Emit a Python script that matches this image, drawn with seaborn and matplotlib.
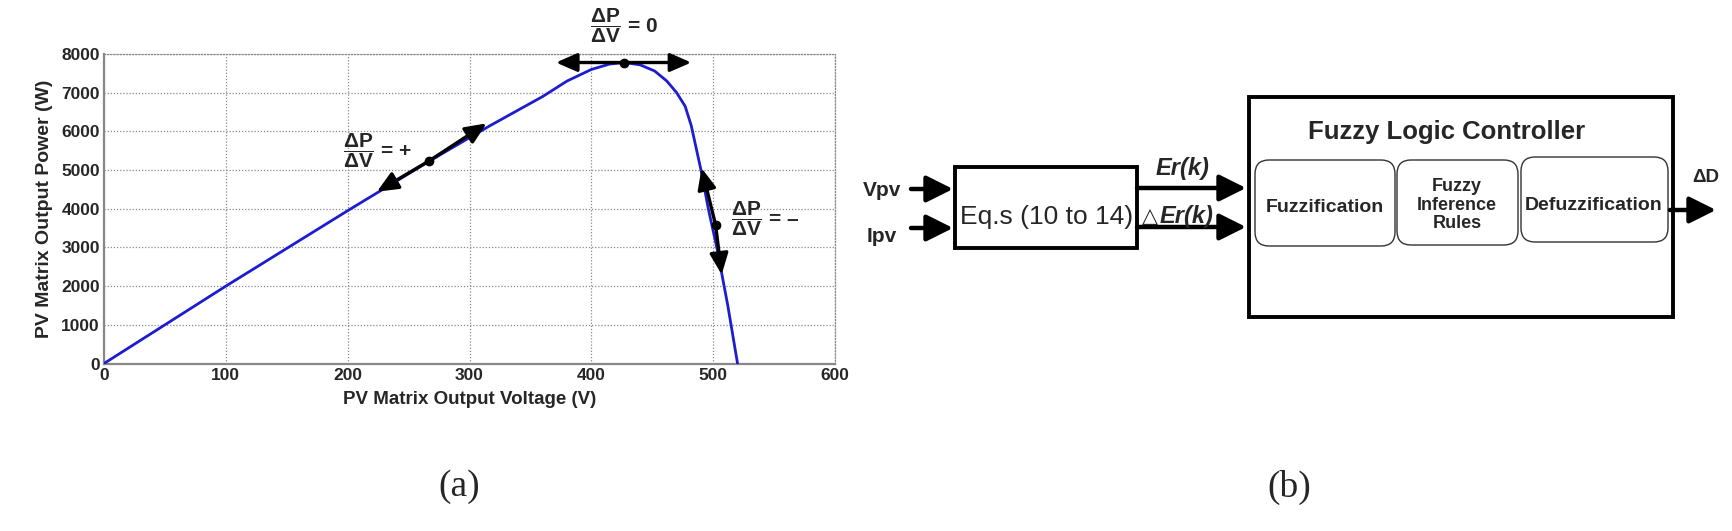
import seaborn as sns
import matplotlib.pyplot as plt
from matplotlib.patches import FancyBboxPatch, Rectangle

# PV curve
voltage = [0, 100, 200, 267, 317, 360, 380, 400, 415, 427, 440, 452, 462, 470, 477, 482,
           490, 496, 503, 512, 520]
power = [0, 2000, 3950, 5230, 6150, 6900, 7300, 7600, 7740, 7780, 7720, 7560, 7300, 7000,
         6650, 6150, 5000, 4000, 3000, 1500, 0]

x_ticks = [0, 100, 200, 300, 400, 500, 600]
y_ticks = [0, 1000, 2000, 3000, 4000, 5000, 6000, 7000, 8000]

# operating points (dot) and the two arrow tips around them
op_points = [(267, 5240), (427, 7780), (502, 3580)]
arrow_tips = [[(224, 4440), (314, 6207)],
              [(371, 7780), (482, 7780)],
              [(490.5, 5050), (507, 2300)]]
slope_labels = ["= +", "= 0", "= \u2013"]
slope_label_pos = [(196, 5500), (399, 8720), (515, 3734)]

sns.set_style("white")
plt.rcParams["font.family"] = ["Liberation Sans", "DejaVu Sans"]
plt.rcParams["mathtext.fontset"] = "custom"
plt.rcParams["mathtext.rm"] = "Liberation Sans:bold"
plt.rcParams["mathtext.bf"] = "Liberation Sans:bold"
plt.rcParams["mathtext.it"] = "Liberation Sans:bold:italic"

fig = plt.figure(figsize=(17.33, 5.31), dpi=100)

# ---- (b) block diagram, drawn in pixel coordinates ----
dg = fig.add_axes([0, 0, 1, 1])
dg.set_xlim(0, 1733)
dg.set_ylim(531, 0)
dg.axis("off")

dg.add_patch(Rectangle((1249, 97), 424, 220, fill=False, lw=2.8, ec="black"))
dg.add_patch(Rectangle((955, 167), 182, 81, fill=False, lw=2.8, ec="black"))
for x0, y0, w, h in [(1255, 160, 140, 86), (1397, 160, 121, 85), (1521, 157, 147, 85)]:
    dg.add_patch(FancyBboxPatch((x0, y0), w, h, boxstyle="round,pad=0,rounding_size=14",
                                fill=False, lw=1.0, ec="#333333"))

def arrow(x0, y0, x1, y1):
    dg.annotate("", xy=(x1, y1), xytext=(x0, y0),
                arrowprops=dict(arrowstyle="-|>,head_length=0.9,head_width=0.45", lw=3.2,
                                color="black", shrinkA=0, shrinkB=0, mutation_scale=18))

arrow(911, 189, 953, 189)
arrow(911, 228, 953, 228)
arrow(1137, 188, 1246, 188)
arrow(1137, 227, 1246, 227)
arrow(1670, 210, 1716, 210)

dg.text(882, 190, "Vpv", fontsize=15, fontweight="bold", ha="center", va="center")
dg.text(882, 236, "Ipv", fontsize=15, fontweight="bold", ha="center", va="center")
dg.text(1047, 217, "Eq.s (10 to 14)", fontsize=19, ha="center", va="center")
dg.text(1183, 168, "Er(k)", fontsize=17, fontweight="bold", style="italic", ha="center", va="center")
dg.text(1150, 216, "\u25b3", fontsize=15, ha="center", va="center", family=["DejaVu Sans"])
dg.text(1187, 216, "Er(k)", fontsize=17, fontweight="bold", style="italic", ha="center", va="center")
dg.text(1447, 132, "Fuzzy Logic Controller", fontsize=18.5, fontweight="bold", ha="center", va="center")
dg.text(1325, 207, "Fuzzification", fontsize=14, fontweight="bold", ha="center", va="center")
dg.text(1457, 205, "Fuzzy\nInference\nRules", fontsize=13, fontweight="bold", ha="center",
        va="center", linespacing=1.15)
dg.text(1594, 205, "Defuzzification", fontsize=14, fontweight="bold", ha="center", va="center")
dg.text(1706, 178, "\u0394D", fontsize=13.5, fontweight="bold", ha="center", va="center")

fig.text(459 / 1733, 1 - 487 / 531, "(a)", fontsize=27, ha="center", va="center",
         family=["Liberation Serif"])
fig.text(1289 / 1733, 1 - 487 / 531, "(b)", fontsize=27, ha="center", va="center",
         family=["Liberation Serif"])

# ---- (a) P-V curve ----
ax = fig.add_axes([104 / 1733, 1 - 363.5 / 531, 731 / 1733, 309.5 / 531])
sns.lineplot(x=voltage, y=power, ax=ax, color="#1c1cd0", lw=2.0, zorder=3)

ax.set_xlim(0, 600)
ax.set_ylim(0, 8000)
ax.set_xticks(x_ticks)
ax.set_yticks(y_ticks)
ax.tick_params(length=0, labelsize=12.5, pad=3)
for lab in ax.get_xticklabels() + ax.get_yticklabels():
    lab.set_fontweight("bold")
ax.grid(True, color="#8a8a8a", lw=0.9, linestyle=(0, (1, 1.5)))
for side in ["left", "bottom"]:
    ax.spines[side].set_color("#888888")
    ax.spines[side].set_linewidth(1.6)
for side in ["top", "right"]:
    ax.spines[side].set_color("#8a8a8a")
    ax.spines[side].set_linewidth(0.9)
    ax.spines[side].set_linestyle((0, (1, 1.5)))
ax.set_xlabel("PV Matrix Output Voltage (V)", fontsize=13.5, fontweight="bold", labelpad=6)
ax.set_ylabel("PV Matrix Output Power (W)", fontsize=14, fontweight="bold", labelpad=6)

for (px, py), tips in zip(op_points, arrow_tips):
    for tx, ty in tips:
        ax.annotate("", xy=(tx, ty), xytext=(px, py), annotation_clip=False,
                    arrowprops=dict(arrowstyle="-|>,head_length=0.8,head_width=0.35", lw=2.4,
                                    color="black", shrinkA=0, shrinkB=0, mutation_scale=16),
                    zorder=4)
    ax.plot(px, py, "o", color="black", ms=6, zorder=5)

for lab, (lx, ly) in zip(slope_labels, slope_label_pos):
    ax.text(lx, ly, r"$\dfrac{\mathrm{\Delta P}}{\mathrm{\Delta V}}$ " + lab, fontsize=15,
            fontweight="bold", ha="left", va="center", clip_on=False)

plt.savefig("out.png", dpi=100)
